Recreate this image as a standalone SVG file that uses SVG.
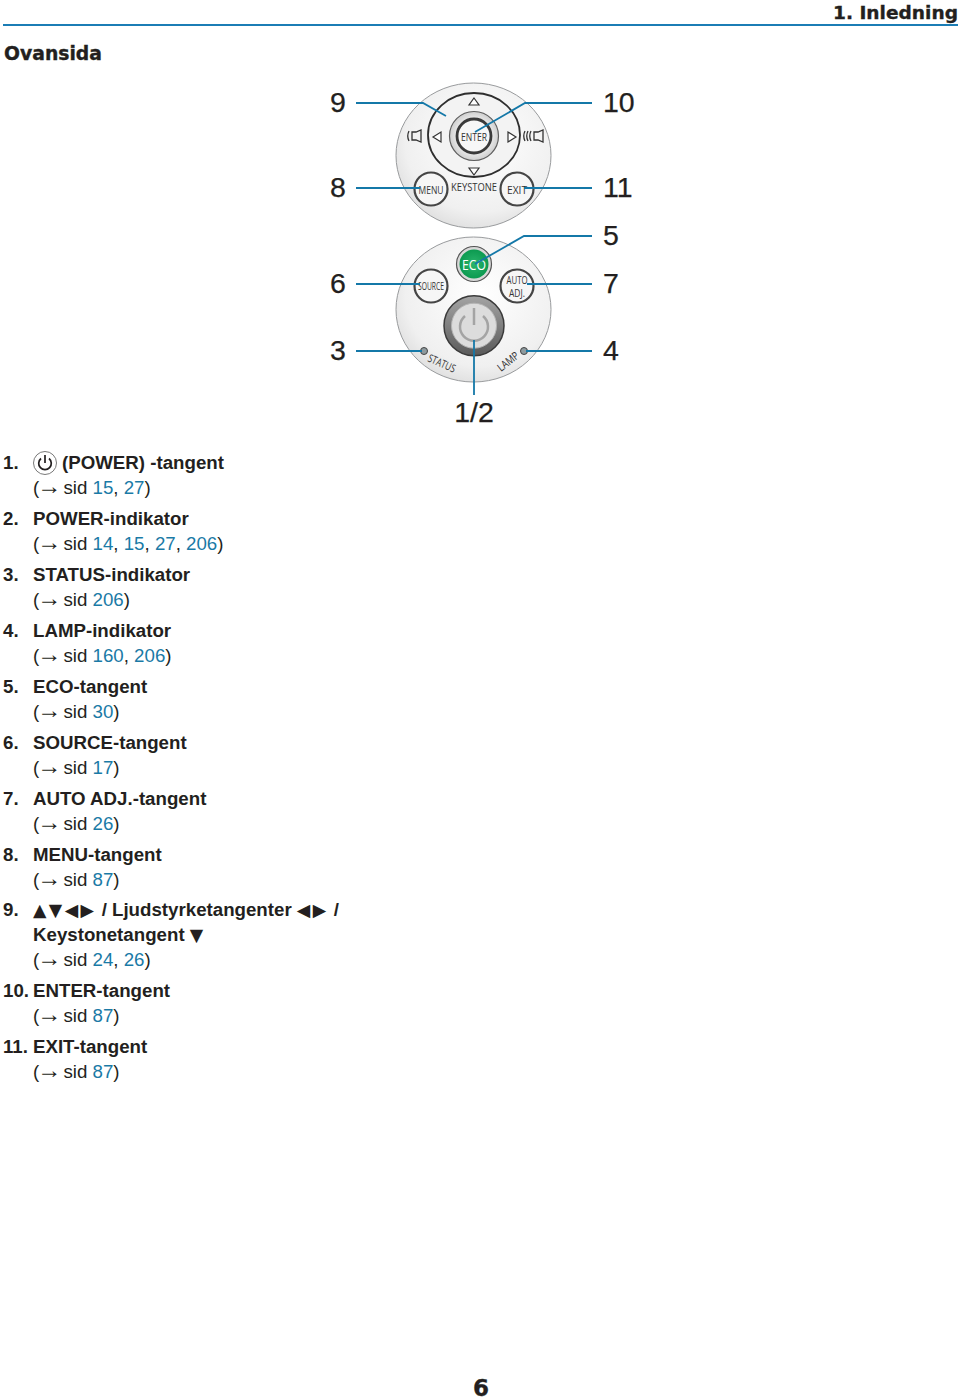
<svg xmlns="http://www.w3.org/2000/svg" width="960" height="1399" viewBox="0 0 960 1399">
<style>
text{font-family:"Liberation Sans",Arial,sans-serif;fill:#231f20}
.h{font-family:"DejaVu Sans","Liberation Sans",sans-serif;font-weight:700;stroke:#231f20;stroke-width:.35px}
.n{font-size:28.500px;stroke:#231f20;stroke-width:.25px}
.b{font-size:18.700px;font-weight:700}
.r{font-size:18.700px}
.l{fill:#1a7aa6}
.g{font-family:"DejaVu Sans",sans-serif;font-weight:400;font-size:17.500px;letter-spacing:2.400px}
.ar{font-size:24px}
.k{font-family:"Open Sans","Liberation Sans",sans-serif;fill:#333;font-size:11px}
.panel{fill:url(#pg);stroke:#999b9d;stroke-width:1}
.btn{fill:#f6f6f6;stroke:#454545;stroke-width:2.200}
.tri{fill:#fff;stroke:#333;stroke-width:1.200}
.c{fill:none;stroke:#1478a8;stroke-width:1.800}
</style>
<defs>
<radialGradient id="pg" cx="0.55" cy="0.4" r="0.7"><stop offset="0" stop-color="#ffffff"/><stop offset="0.7" stop-color="#f0f0f0"/><stop offset="1" stop-color="#d6d6d6"/></radialGradient>
<radialGradient id="eg" cx="0.5" cy="0.5" r="0.5"><stop offset="0" stop-color="#2ab56c"/><stop offset="1" stop-color="#0c9a50"/></radialGradient>
<linearGradient id="pw" x1="0" y1="0" x2="0" y2="1"><stop offset="0" stop-color="#a4a4a4"/><stop offset="1" stop-color="#5a5a5a"/></linearGradient>
<radialGradient id="eb" cx="0.5" cy="0.5" r="0.5"><stop offset="0.6" stop-color="#f2f2f2"/><stop offset="1" stop-color="#cfcfcf"/></radialGradient>
</defs>
<rect width="960" height="1399" fill="#fff"/>

<g id="header">
<text class="h" x="833" y="19" font-size="18.500" textLength="125" lengthAdjust="spacingAndGlyphs">1. Inledning</text>
<rect x="3" y="24" width="955" height="2" fill="#1b7db5"/>
<text class="h" x="4" y="60" font-size="19" textLength="98" lengthAdjust="spacingAndGlyphs">Ovansida</text>
</g>

<g id="panel-top">
<ellipse class="panel" cx="473.500" cy="155.500" rx="77.500" ry="72.500"/>
<ellipse cx="474" cy="135" rx="46" ry="42" fill="#f3f3f3" stroke="#2e2e2e" stroke-width="1.800"/>
<polygon class="tri" points="474,98 479,105 469,105"/>
<polygon class="tri" points="474,175 479,168 469,168"/>
<polygon class="tri" points="433,137 441,132 441,142"/>
<polygon class="tri" points="516,137 508,132 508,142"/>
<path d="M409 131q-2.500 5 0 10M412 132h4l5-2v12l-5-2h-4z" fill="none" stroke="#333" stroke-width="1.300"/>
<path d="M525 131q-2.500 5 0 10M528 131q-2.500 5 0 10M531 131q-2.500 5 0 10M534 132h4l5-2v12l-5-2h-4z" fill="none" stroke="#333" stroke-width="1.300"/>
</g>
<g id="btn-enter">
<circle cx="474" cy="136" r="24.500" fill="url(#eb)" stroke="#5e5e5e" stroke-width="1.200"/>
<circle cx="474" cy="136" r="17" fill="#f7f7f7" stroke="#3a3a3a" stroke-width="2.800"/>
<text class="k" x="474" y="141" font-size="12" text-anchor="middle" textLength="26" lengthAdjust="spacingAndGlyphs">ENTER</text>
</g>
<g id="btn-menu">
<circle class="btn" cx="431" cy="189" r="16.500"/>
<text class="k" x="431" y="194" font-size="12" text-anchor="middle" textLength="25" lengthAdjust="spacingAndGlyphs">MENU</text>
</g>
<g id="btn-exit">
<circle class="btn" cx="517" cy="189" r="16.500"/>
<text class="k" x="517" y="194" text-anchor="middle" textLength="20" lengthAdjust="spacingAndGlyphs">EXIT</text>
</g>
<g id="label-keystone">
<text class="k" x="474" y="191" text-anchor="middle" textLength="46" lengthAdjust="spacingAndGlyphs">KEYSTONE</text>
</g>

<g id="panel-bottom">
<ellipse class="panel" cx="473.500" cy="309.500" rx="77.500" ry="72.500"/>
<text class="k" transform="translate(427 361) rotate(24)" textLength="29" lengthAdjust="spacingAndGlyphs">STATUS</text>
<text class="k" transform="translate(501 372) rotate(-38)" textLength="24" lengthAdjust="spacingAndGlyphs">LAMP</text>
</g>
<g id="btn-eco">
<circle cx="474" cy="264" r="17.500" fill="#d8d8d8" stroke="#555" stroke-width="1.200"/>
<circle cx="474" cy="264" r="14.500" fill="url(#eg)"/>
<text x="474" y="269.500" font-size="15" text-anchor="middle" style="font-family:'Open Sans','Liberation Sans',sans-serif;fill:#fff" textLength="24" lengthAdjust="spacingAndGlyphs">ECO</text>
</g>
<g id="btn-source">
<circle class="btn" cx="431" cy="286" r="16.500"/>
<text class="k" x="431" y="290" text-anchor="middle" textLength="26" lengthAdjust="spacingAndGlyphs">SOURCE</text>
</g>
<g id="btn-auto">
<circle class="btn" cx="517" cy="286" r="16.500"/>
<text class="k" x="517" y="283.500" font-size="10" text-anchor="middle" textLength="21" lengthAdjust="spacingAndGlyphs">AUTO</text>
<text class="k" x="517" y="296.500" font-size="10" text-anchor="middle" textLength="16" lengthAdjust="spacingAndGlyphs">ADJ.</text>
</g>
<g id="btn-power">
<circle cx="474" cy="325.700" r="30" fill="url(#pw)" stroke="#3a3a3a" stroke-width="1.500"/>
<circle cx="474" cy="325.700" r="22.500" fill="#dcdcdc" stroke="#b5b5b5" stroke-width="1"/>
<path d="M465 316a14 14 0 1 0 18 0" fill="none" stroke="#a4a4a4" stroke-width="2.500"/>
<path d="M474 308v17" fill="none" stroke="#a4a4a4" stroke-width="2.500"/>
</g>
<g id="led-status"><circle cx="424" cy="351" r="3.500" fill="#8e9a9e" stroke="#444"/></g>
<g id="led-lamp"><circle cx="524" cy="351" r="3.500" fill="#8e9a9e" stroke="#444"/></g>

<g id="connectors">
<path class="c" d="M356 103H423L446 116"/>
<path class="c" d="M592 103H525L475 132"/>
<path class="c" d="M356 188H420"/>
<path class="c" d="M592 188H524"/>
<path class="c" d="M592 236H524L475 264"/>
<path class="c" d="M356 284H420"/>
<path class="c" d="M592 284H527"/>
<path class="c" d="M356 351H422"/>
<path class="c" d="M592 351H526"/>
<path class="c" d="M474 340V395"/>
</g>

<g id="callouts">
<text class="n" x="330" y="112">9</text>
<text class="n" x="603" y="112">10</text>
<text class="n" x="330" y="197">8</text>
<text class="n" x="603" y="197">11</text>
<text class="n" x="603" y="245">5</text>
<text class="n" x="330" y="293">6</text>
<text class="n" x="603" y="293">7</text>
<text class="n" x="330" y="360">3</text>
<text class="n" x="603" y="360">4</text>
<text class="n" x="474" y="422" text-anchor="middle">1/2</text>
</g>

<g id="list">
<text class="b" x="3" y="469">1.</text>
<circle cx="45" cy="463" r="11.500" fill="none" stroke="#555" stroke-width="0.800"/>
<path d="M41 458.500a6.300 6.300 0 1 0 8 0M45 455v8" fill="none" stroke="#231f20" stroke-width="1.700"/>
<text class="b" x="62" y="469">(POWER) -tangent</text>
<text class="r" x="33" y="494">(<tspan class="ar" dx="-2">→</tspan><tspan dx="-3"> sid </tspan><tspan class="l">15</tspan>, <tspan class="l">27</tspan>)</text>

<text class="b" x="3" y="525">2.</text><text class="b" x="33" y="525">POWER-indikator</text>
<text class="r" x="33" y="550">(<tspan class="ar" dx="-2">→</tspan><tspan dx="-3"> sid </tspan><tspan class="l">14</tspan>, <tspan class="l">15</tspan>, <tspan class="l">27</tspan>, <tspan class="l">206</tspan>)</text>

<text class="b" x="3" y="581">3.</text><text class="b" x="33" y="581">STATUS-indikator</text>
<text class="r" x="33" y="606">(<tspan class="ar" dx="-2">→</tspan><tspan dx="-3"> sid </tspan><tspan class="l">206</tspan>)</text>

<text class="b" x="3" y="637">4.</text><text class="b" x="33" y="637">LAMP-indikator</text>
<text class="r" x="33" y="662">(<tspan class="ar" dx="-2">→</tspan><tspan dx="-3"> sid </tspan><tspan class="l">160</tspan>, <tspan class="l">206</tspan>)</text>

<text class="b" x="3" y="693">5.</text><text class="b" x="33" y="693">ECO-tangent</text>
<text class="r" x="33" y="718">(<tspan class="ar" dx="-2">→</tspan><tspan dx="-3"> sid </tspan><tspan class="l">30</tspan>)</text>

<text class="b" x="3" y="749">6.</text><text class="b" x="33" y="749">SOURCE-tangent</text>
<text class="r" x="33" y="774">(<tspan class="ar" dx="-2">→</tspan><tspan dx="-3"> sid </tspan><tspan class="l">17</tspan>)</text>

<text class="b" x="3" y="805">7.</text><text class="b" x="33" y="805">AUTO ADJ.-tangent</text>
<text class="r" x="33" y="830">(<tspan class="ar" dx="-2">→</tspan><tspan dx="-3"> sid </tspan><tspan class="l">26</tspan>)</text>

<text class="b" x="3" y="861">8.</text><text class="b" x="33" y="861">MENU-tangent</text>
<text class="r" x="33" y="886">(<tspan class="ar" dx="-2">→</tspan><tspan dx="-3"> sid </tspan><tspan class="l">87</tspan>)</text>

<text class="b" x="3" y="916">9.</text>
<text class="b" x="33" y="916"><tspan class="g">▲▼◀▶</tspan> / Ljudstyrketangenter <tspan class="g">◀▶</tspan> /</text>
<text class="b" x="33" y="941">Keystonetangent <tspan class="g">▼</tspan></text>
<text class="r" x="33" y="966">(<tspan class="ar" dx="-2">→</tspan><tspan dx="-3"> sid </tspan><tspan class="l">24</tspan>, <tspan class="l">26</tspan>)</text>

<text class="b" x="3" y="997">10.</text><text class="b" x="33" y="997">ENTER-tangent</text>
<text class="r" x="33" y="1022">(<tspan class="ar" dx="-2">→</tspan><tspan dx="-3"> sid </tspan><tspan class="l">87</tspan>)</text>

<text class="b" x="3" y="1053">11.</text><text class="b" x="33" y="1053">EXIT-tangent</text>
<text class="r" x="33" y="1078">(<tspan class="ar" dx="-2">→</tspan><tspan dx="-3"> sid </tspan><tspan class="l">87</tspan>)</text>
</g>

<g id="page-number"><text class="h" x="481" y="1396" font-size="23" text-anchor="middle">6</text></g>
</svg>
